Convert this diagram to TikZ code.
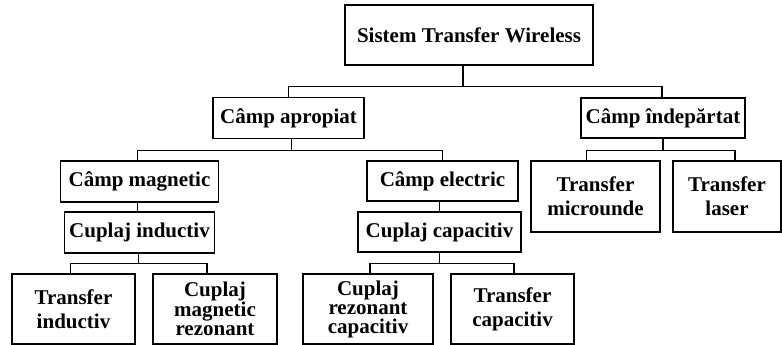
\documentclass[tikz,border=0pt]{standalone}
\usepackage{fontspec}
\setmainfont{Liberation Serif}
\usetikzlibrary{positioning}

\begin{document}
\begin{tikzpicture}[x=1pt, y=-1pt, line width=1.2pt,
        box/.style={draw, inner sep=0pt, align=center, font=\fontsize{21}{24}\selectfont\bfseries},
        leaf/.style={box, minimum height=70pt},
        leafthree/.style={leaf, font=\fontsize{21}{19}\selectfont\bfseries}]
    \useasboundingbox (0,0) rectangle (782,345);

    \node[box, minimum width=248pt, minimum height=60pt] (sistem) at (469,35) {Sistem Transfer Wireless};

    \node[box, minimum width=151pt, minimum height=41pt] (apropiat) at (288.5,118) {Câmp apropiat};
    \node[box, minimum width=164pt, minimum height=40pt] (indepartat) at (663,118) {Câmp îndepărtat};

    \node[box, minimum width=158pt, minimum height=41pt] (magnetic) at (139.5,181.5) {Câmp magnetic};
    \node[box, minimum width=151pt, minimum height=40pt] (electric) at (442.5,181) {Câmp electric};
    \node[box, minimum width=150pt, minimum height=41pt] (inductiv) at (139.5,232.5) {Cuplaj inductiv};
    \node[box, minimum width=163pt, minimum height=40pt] (capacitiv) at (439.5,232) {Cuplaj capacitiv};

    \node[box, minimum width=129pt, minimum height=71pt] (microunde) at (595.5,196.5) {Transfer\\microunde};
    \node[box, minimum width=108pt, minimum height=71pt] (laser) at (727,196.5) {Transfer\\laser};

    \node[leaf, minimum width=123pt] (tinductiv) at (73.5,309) {Transfer\\inductiv};
    \node[leafthree, minimum width=124pt] (magrez) at (215,309) {Cuplaj\\magnetic\\rezonant};
    \node[leafthree, minimum width=130pt] (caprez) at (368,309) {Cuplaj\\rezonant\\capacitiv};
    \node[leaf, minimum width=123pt] (tcapacitiv) at (512.5,309) {Transfer\\capacitiv};

    % level 1
    \draw ([xshift=-6pt]sistem.south) -- ++(0,21) coordinate (j0);
    \draw (apropiat.north) |- (j0) -| ([xshift=-1pt]indepartat.north);

    % near field
    \draw ([xshift=3pt]apropiat.south) -- ++(0,11) coordinate (j1);
    \draw ([xshift=-2pt]magnetic.north) |- (j1) -| (electric.north);
    \draw ([xshift=-2pt]magnetic.south) -- ([xshift=-2pt]inductiv.north);
    \draw (capacitiv.north) -- (capacitiv.north |- electric.south);

    % far field
    \draw (indepartat.south) -- ++(0,12) coordinate (j2);
    \draw ([xshift=-9pt]microunde.north) |- (j2) -| ([xshift=8pt]laser.north);

    % inductive / capacitive leaves
    \draw ([xshift=-1pt]inductiv.south) -- ++(0,10) coordinate (j3);
    \draw ([xshift=-3pt]tinductiv.north) |- (j3) -| ([xshift=-8pt]magrez.north);
    \draw (capacitiv.south) -- ++(0,11) coordinate (j4);
    \draw ([xshift=2pt]caprez.north) |- (j4) -| ([xshift=1.5pt]tcapacitiv.north);
\end{tikzpicture}
\end{document}
